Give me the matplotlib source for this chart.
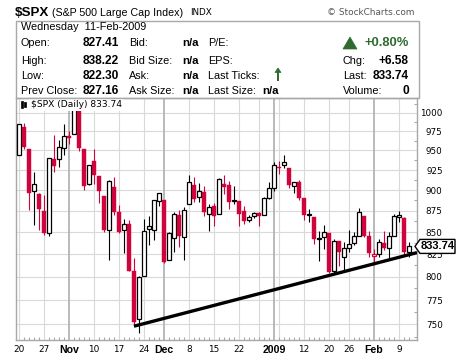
import matplotlib
matplotlib.use('Agg')
import matplotlib.pyplot as plt
from matplotlib.patches import Rectangle, Polygon
import numpy as np

# daily OHLC, $SPX, 20-Oct-2008 .. 11-Feb-2009
dates = ['2008-10-20', '2008-10-21', '2008-10-22', '2008-10-23', '2008-10-24',
         '2008-10-27', '2008-10-28', '2008-10-29', '2008-10-30', '2008-10-31',
         '2008-11-03', '2008-11-04', '2008-11-05', '2008-11-06', '2008-11-07',
         '2008-11-10', '2008-11-11', '2008-11-12', '2008-11-13', '2008-11-14',
         '2008-11-17', '2008-11-18', '2008-11-19', '2008-11-20', '2008-11-21',
         '2008-11-24', '2008-11-25', '2008-11-26', '2008-11-28',
         '2008-12-01', '2008-12-02', '2008-12-03', '2008-12-04', '2008-12-05',
         '2008-12-08', '2008-12-09', '2008-12-10', '2008-12-11', '2008-12-12',
         '2008-12-15', '2008-12-16', '2008-12-17', '2008-12-18', '2008-12-19',
         '2008-12-22', '2008-12-23', '2008-12-24', '2008-12-26',
         '2008-12-29', '2008-12-30', '2008-12-31', '2009-01-02',
         '2009-01-05', '2009-01-06', '2009-01-07', '2009-01-08', '2009-01-09',
         '2009-01-12', '2009-01-13', '2009-01-14', '2009-01-15', '2009-01-16',
         '2009-01-20', '2009-01-21', '2009-01-22', '2009-01-23',
         '2009-01-26', '2009-01-27', '2009-01-28', '2009-01-29', '2009-01-30',
         '2009-02-02', '2009-02-03', '2009-02-04', '2009-02-05', '2009-02-06',
         '2009-02-09', '2009-02-10', '2009-02-11']

opens = [943.51, 980.40, 951.67, 899.08, 895.22,
         874.28, 848.92, 939.51, 939.38, 953.11,
         968.67, 971.31, 1001.84, 952.40, 907.44,
         936.75, 917.15, 893.39, 853.13, 904.36,
         873.23, 852.34, 859.03, 805.87, 755.84,
         801.20, 853.40, 852.90, 886.89,
         888.61, 817.94, 843.60, 869.75, 844.43,
         882.71, 906.48, 892.17, 898.35, 871.79,
         881.07, 871.53, 908.16, 905.98, 886.96,
         887.20, 874.31, 863.87, 869.51,
         872.37, 870.58, 890.59, 902.99,
         929.17, 931.17, 927.45, 905.73, 909.91,
         890.40, 869.79, 867.28, 841.99, 844.45,
         849.64, 806.77, 839.74, 822.16,
         832.50, 837.30, 845.73, 868.89, 845.69,
         823.09, 825.69, 837.77, 831.75, 846.09,
         868.24, 866.87, 827.41]

highs = [985.40, 985.44, 951.67, 922.83, 896.30,
         893.78, 940.51, 969.97, 963.23, 984.38,
         975.57, 1007.51, 1001.84, 952.40, 931.46,
         951.95, 917.15, 893.39, 913.01, 916.88,
         882.29, 865.90, 864.57, 820.52, 801.20,
         865.60, 868.94, 887.68, 896.25,
         888.61, 850.54, 873.12, 875.60, 879.42,
         918.57, 916.26, 908.27, 904.63, 883.24,
         884.63, 914.66, 918.85, 911.02, 905.47,
         887.37, 880.44, 869.79, 873.74,
         873.70, 891.12, 910.32, 934.73,
         936.63, 943.85, 927.45, 910.00, 911.93,
         890.40, 877.02, 867.28, 851.59, 858.13,
         849.64, 841.72, 839.74, 838.61,
         852.53, 850.45, 877.86, 868.89, 851.66,
         830.78, 842.60, 851.85, 850.55, 870.75,
         875.01, 868.05, 838.22]

lows = [943.51, 952.47, 875.81, 858.44, 852.85,
        846.75, 845.27, 922.26, 928.50, 944.59,
        958.82, 971.31, 949.86, 899.73, 906.90,
        907.47, 884.90, 850.48, 818.69, 869.88,
        848.98, 826.84, 806.18, 747.78, 741.02,
        801.20, 834.99, 841.37, 881.21,
        815.69, 817.94, 827.60, 833.60, 818.41,
        882.71, 885.38, 885.45, 868.73, 851.35,
        857.72, 871.53, 895.94, 877.44, 883.02,
        857.09, 860.10, 861.44, 866.52,
        857.07, 870.58, 889.67, 899.35,
        919.53, 927.28, 902.37, 896.81, 888.31,
        864.32, 862.02, 836.93, 817.04, 830.66,
        804.47, 804.30, 811.29, 806.07,
        827.69, 835.40, 845.73, 844.15, 821.67,
        812.87, 821.98, 829.18, 819.91, 845.42,
        861.65, 822.99, 822.30]

closes = [985.40, 955.05, 896.78, 908.11, 876.77,
          848.92, 940.51, 930.09, 954.09, 968.75,
          966.30, 1005.75, 952.77, 904.88, 930.99,
          919.21, 898.95, 852.30, 911.29, 873.29,
          850.75, 859.12, 806.58, 752.44, 800.03,
          851.81, 857.39, 887.68, 896.24,
          816.21, 848.81, 870.74, 845.22, 876.07,
          909.70, 888.67, 899.24, 873.59, 879.73,
          868.57, 913.18, 904.42, 885.28, 887.88,
          871.63, 863.16, 868.15, 872.80,
          869.42, 890.64, 903.25, 931.80,
          927.45, 934.70, 906.65, 909.73, 890.35,
          870.26, 871.79, 842.62, 843.74, 850.12,
          805.22, 840.24, 827.50, 831.95,
          836.57, 845.71, 874.09, 845.14, 825.88,
          825.44, 838.51, 832.23, 845.85, 868.60,
          869.89, 827.16, 833.74]

prev_close_first = 940.55

tick_dates = ['2008-10-20', '2008-10-27', '2008-11-03', '2008-11-10', '2008-11-17',
              '2008-11-24', '2008-12-01', '2008-12-08', '2008-12-15', '2008-12-22',
              '2009-01-02', '2009-01-12', '2009-01-20', '2009-01-26', '2009-02-02',
              '2009-02-09']
tick_labels = ['20', '27', 'Nov', '10', '17', '24', 'Dec', '8', '15', '22',
               '2009', '12', '20', '26', 'Feb', '9']
month_labels = ['Nov', 'Dec', '2009', 'Feb']
extra_grid_dates = ['2008-12-29', '2009-01-05']

y_ticks = [750, 775, 800, 825, 850, 875, 900, 925, 950, 975, 1000]

# trend line drawn on the chart (from the Nov-20 low)
trend_dates = ['2008-11-20', '2009-02-11']
trend_values = [748, 824.4]

RED = '#D0043C'
GREEN = '#2F6B2F'

W, H = 460, 357
fig = plt.figure(figsize=(W / 100, H / 100), dpi=100)
fig.patch.set_facecolor('white')


def fx(x):
    return x / W


def fy(y):
    return 1 - y / H


ax = fig.add_axes([fx(16), fy(340), (417 - 16) / W, (340 - 98) / H])
ax.set_yscale('log')
ax.set_xlim(-0.6, 79.6)
ax.set_ylim(734.1, 1020.2)

idx = {d: i for i, d in enumerate(dates)}
xs = np.arange(len(dates))

# grid
for y in y_ticks:
    ax.axhline(y, color='#D9D9D9', lw=0.8, zorder=0)
for d, lab in zip(tick_dates, tick_labels):
    if lab in month_labels:
        ax.axvline(idx[d], color='#B4B4B4', lw=1.3, zorder=0)
    else:
        ax.axvline(idx[d], color='#D9D9D9', lw=0.8, zorder=0)
for d in extra_grid_dates:
    ax.axvline(idx[d], color='#D9D9D9', lw=0.8, zorder=0)

# candles
bw = 0.78
for i in xs:
    o, h, l, c = opens[i], highs[i], lows[i], closes[i]
    pc = closes[i - 1] if i > 0 else prev_close_first
    col = 'black' if c >= pc else RED
    ax.vlines(i, l, h, color=col, lw=0.8, zorder=2)
    hollow = c > o
    face = 'white' if hollow else col
    bot, top = min(o, c), max(o, c)
    if top - bot < 0.6:
        ax.hlines(o, i - bw / 2, i + bw / 2, color=col, lw=1.0, zorder=3)
    else:
        ax.add_patch(Rectangle((i - bw / 2, bot), bw, top - bot, facecolor=face,
                               edgecolor=col, lw=0.9 if hollow else 0.3, zorder=3))

# trend line
t0, t1 = idx[trend_dates[0]], idx[trend_dates[1]]
slope = (np.log(trend_values[1]) - np.log(trend_values[0])) / (t1 - t0)
tx = np.array([t0, 79.6])
ty = trend_values[0] * np.exp(slope * (tx - t0))
ax.plot(tx, ty, color='black', lw=2.4, solid_capstyle='butt', zorder=4)

# axes cosmetics
for s in ax.spines.values():
    s.set_color('#A8A8A8')
    s.set_linewidth(1.0)
ax.yaxis.tick_right()
ax.set_yticks(y_ticks)
ax.set_yticklabels([str(v) for v in y_ticks])
ax.yaxis.set_minor_locator(matplotlib.ticker.FixedLocator([v + 12.5 for v in y_ticks] + [737.5]))
ax.yaxis.set_minor_formatter(matplotlib.ticker.NullFormatter())
ax.tick_params(axis='y', which='major', length=0, pad=18.5, labelsize=6.3)
ax.tick_params(axis='y', which='minor', direction='in', length=2.5, color='#A8A8A8', width=0.8)
for lab in ax.get_yticklabels():
    lab.set_horizontalalignment('right')
    lab.set_fontfamily('DejaVu Sans')

ax.set_xticks([idx[d] for d in tick_dates])
ax.set_xticklabels(tick_labels)
ax.xaxis.set_minor_locator(matplotlib.ticker.FixedLocator(xs))
ax.tick_params(axis='x', which='major', length=0, pad=3.5)
ax.tick_params(axis='x', which='minor', direction='in', length=2.5, color='#A8A8A8', width=0.8)
for lab in ax.get_xticklabels():
    if lab.get_text() in month_labels:
        lab.set_fontfamily('Liberation Sans')
        lab.set_fontweight('bold')
        lab.set_fontsize(7.6)
    else:
        lab.set_fontfamily('DejaVu Sans')
        lab.set_fontsize(6.4)

# legend line inside the plot
ax.text(fx(31 - 16) * W / 401, 1 - 7 / 242, '$SPX (Daily) 833.74', transform=ax.transAxes,
        fontsize=6.6, family='DejaVu Sans', va='center', ha='left', zorder=6,
        bbox=dict(facecolor='white', edgecolor='none', pad=1.2))
for k, (yb, yt) in enumerate([(101, 108), (102, 107)]):
    fig.add_artist(Rectangle((fx(21 + 3 * k), fy(yt)), 2 / W, (yt - yb) / H,
                             transform=fig.transFigure, facecolor='black', edgecolor='black', lw=0.5))

# last-price tag
fig.canvas.draw()
yd = ax.transData.transform((0, closes[-1]))[1]
ypx = H - yd
pts = [(415, ypx), (420, ypx - 7), (455, ypx - 7), (455, ypx + 7), (420, ypx + 7)]
fig.add_artist(Polygon([(fx(a), fy(b)) for a, b in pts], closed=True, transform=fig.transFigure,
                       facecolor='white', edgecolor='black', lw=1.0, zorder=10))
fig.text(fx(437.5), fy(ypx), f'{closes[-1]:.2f}', fontsize=8, fontweight='bold',
         family='Liberation Sans', ha='center', va='center', zorder=11)

# header
fig.text(fx(15), fy(12.5), '$SPX', fontsize=9.6, fontweight='bold', family='Liberation Sans',
         va='center', ha='left')
fig.text(fx(52), fy(12.5), '(S&P 500 Large Cap Index)', fontsize=7.7, family='Liberation Sans',
         va='center', ha='left')
fig.text(fx(190), fy(12.5), 'INDX', fontsize=6.3, family='DejaVu Sans', va='center', ha='left')
fig.text(fx(415), fy(12.5), '\u00a9 StockCharts.com', fontsize=6.4, family='DejaVu Sans',
         va='center', ha='right', color='#555555')

fig.add_artist(Rectangle((fx(16), fy(98)), (419 - 16) / W, (98 - 21) / H, transform=fig.transFigure,
                         facecolor='none', edgecolor='#A8A8A8', lw=1.0))

row_y = [27.5, 43.5, 60.5, 76, 91]
fs = 7.8
fig.text(fx(21), fy(row_y[0]), 'Wednesday  11-Feb-2009', fontsize=fs, family='Liberation Sans', va='center')

col1 = ['Open:', 'High:', 'Low:', 'Prev Close:']
val1 = ['827.41', '838.22', '822.30', '827.16']
col2 = ['Bid:', 'Bid Size:', 'Ask:', 'Ask Size:']
col3 = ['P/E:', 'EPS:', 'Last Ticks:', 'Last Size:']
col4 = ['Chg:', 'Last:', 'Volume:']
val4 = ['+6.58', '833.74', '0']

for k in range(4):
    y = fy(row_y[k + 1])
    fig.text(fx(21), y, col1[k], fontsize=fs, family='Liberation Sans', va='center')
    fig.text(fx(119), y, val1[k], fontsize=8.6, fontweight='bold', family='Liberation Sans',
             va='center', ha='right')
    fig.text(fx(129), y, col2[k], fontsize=fs, family='Liberation Sans', va='center')
    fig.text(fx(199), y, 'n/a', fontsize=8.2, fontweight='bold', family='Liberation Sans',
             va='center', ha='right')
    fig.text(fx(208), y, col3[k], fontsize=fs, family='Liberation Sans', va='center')
fig.text(fx(279), fy(row_y[4]), 'n/a', fontsize=8.2, fontweight='bold', family='Liberation Sans',
         va='center', ha='right')
# green up tick arrow
fig.add_artist(Polygon([(fx(275), fy(72.5)), (fx(278), fy(68)), (fx(281), fy(72.5))], closed=True,
                       transform=fig.transFigure, facecolor=GREEN, edgecolor=GREEN, lw=0.5))
fig.add_artist(Rectangle((fx(277.3), fy(81)), 1.4 / W, 9 / H, transform=fig.transFigure,
                         facecolor=GREEN, edgecolor='none'))

for k in range(3):
    y = fy(row_y[k + 2])
    fig.text(fx(343), y, col4[k], fontsize=fs, family='Liberation Sans', va='center')
    fig.text(fx(409), y, val4[k], fontsize=8.6, fontweight='bold', family='Liberation Sans',
             va='center', ha='right')

fig.add_artist(Polygon([(fx(343), fy(49)), (fx(350), fy(37)), (fx(357), fy(49))], closed=True,
                       transform=fig.transFigure, facecolor=GREEN, edgecolor=GREEN, lw=0.5))
fig.text(fx(409), fy(row_y[1]), '+0.80%', fontsize=9.4, fontweight='bold', family='Liberation Sans',
         va='center', ha='right', color=GREEN)

fig.savefig('out.png', dpi=100, facecolor='white')
